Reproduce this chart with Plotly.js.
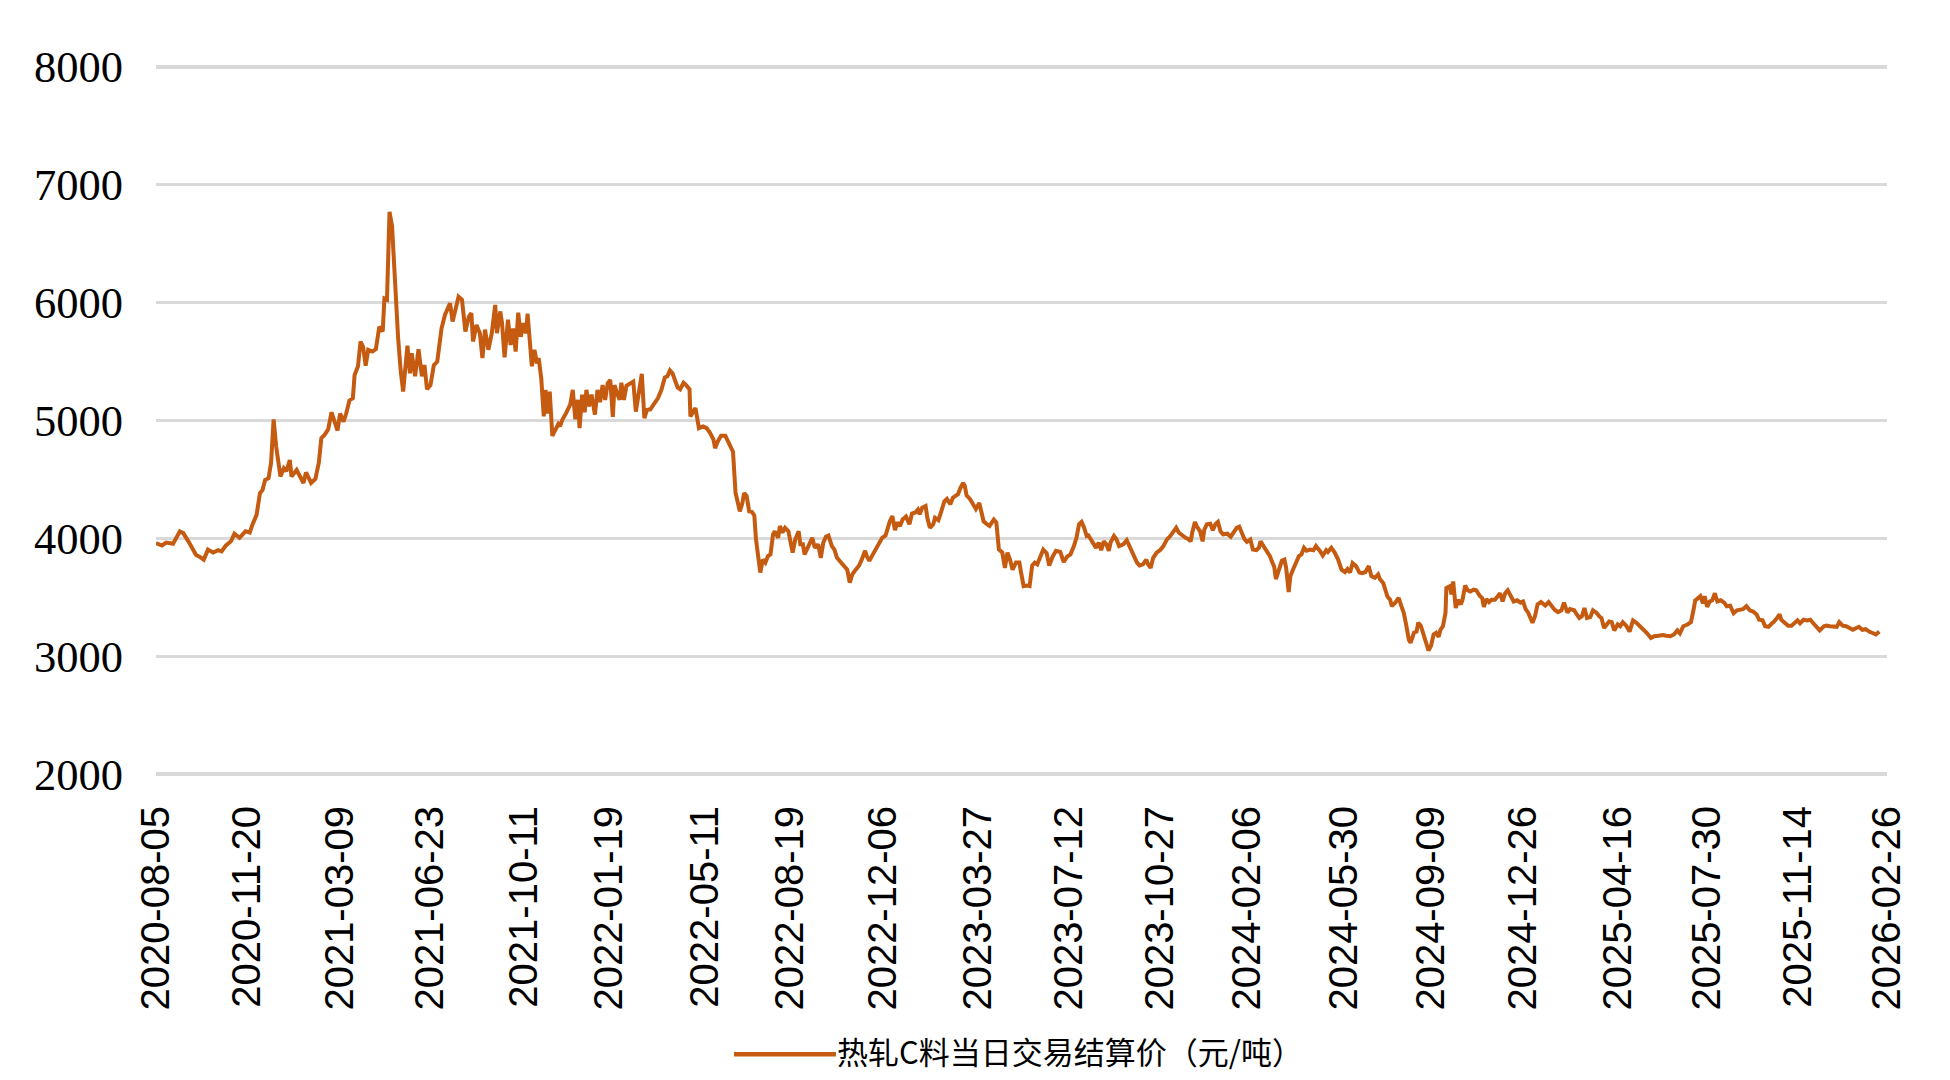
<!DOCTYPE html>
<html><head><meta charset="utf-8">
<script src="https://cdn.plot.ly/plotly-3.0.1.min.js"></script>
<style>html,body{margin:0;padding:0;background:#fff;overflow:hidden;} #chart{width:1950px;height:1080px;}</style>
</head><body><div id="chart"></div>
<script>
const seriesName = "热轧C料当日交易结算价（元/吨）";

const d2020 = ["2020-08-05","2020-08-12","2020-08-17","2020-08-25","2020-09-02","2020-09-06","2020-09-12","2020-09-16","2020-09-21","2020-09-25","2020-09-30","2020-10-05","2020-10-11","2020-10-17","2020-10-21","2020-10-26","2020-11-01","2020-11-05","2020-11-11","2020-11-18","2020-11-23","2020-11-26","2020-12-01","2020-12-05","2020-12-08","2020-12-11","2020-12-15","2020-12-18","2020-12-21","2020-12-24","2020-12-29"];
const p2020 = [3960,3940,3965,3955,4060,4045,3975,3930,3860,3845,3820,3905,3880,3900,3890,3940,3975,4040,4005,4060,4050,4115,4200,4385,4410,4495,4510,4640,5010,4780,4525];

const d2021 = ["2021-01-02","2021-01-05","2021-01-09","2021-01-11","2021-01-17","2021-01-21","2021-01-25","2021-01-28","2021-02-03","2021-02-08","2021-02-12","2021-02-15","2021-02-19","2021-02-23","2021-02-27","2021-03-03","2021-03-06","2021-03-09","2021-03-13","2021-03-16","2021-03-20","2021-03-24","2021-03-26","2021-03-30","2021-04-02","2021-04-05","2021-04-08","2021-04-11","2021-04-16","2021-04-20","2021-04-24","2021-04-28","2021-04-30","2021-05-03","2021-05-06","2021-05-09","2021-05-12","2021-05-16","2021-05-19","2021-05-22","2021-05-27","2021-05-30","2021-06-01","2021-06-05","2021-06-09","2021-06-13","2021-06-16","2021-06-19","2021-06-23","2021-06-27","2021-07-01","2021-07-03","2021-07-06","2021-07-10","2021-07-14","2021-07-16","2021-07-19","2021-07-22","2021-07-26","2021-07-30","2021-08-03","2021-08-07","2021-08-10","2021-08-12","2021-08-16","2021-08-20","2021-08-23","2021-08-26","2021-08-30","2021-09-03","2021-09-07","2021-09-09","2021-09-13","2021-09-15","2021-09-18","2021-09-22","2021-09-25","2021-09-28","2021-10-01","2021-10-04","2021-10-07","2021-10-10","2021-10-13","2021-10-15","2021-10-18","2021-10-20","2021-10-23","2021-10-26","2021-10-28","2021-10-31","2021-11-03","2021-11-05","2021-11-08","2021-11-10","2021-11-13","2021-11-16","2021-11-20","2021-11-22","2021-11-25","2021-11-29","2021-12-04","2021-12-07","2021-12-10","2021-12-13","2021-12-15","2021-12-18","2021-12-21","2021-12-23","2021-12-26","2021-12-29"];
const p2021 = [4595,4570,4665,4525,4580,4530,4470,4560,4470,4505,4640,4850,4880,4925,5070,4980,4915,5060,4990,5055,5170,5190,5385,5460,5670,5625,5465,5600,5585,5605,5795,5755,6035,6025,6770,6645,6190,5710,5430,5245,5635,5400,5570,5375,5605,5375,5470,5265,5300,5470,5500,5600,5780,5895,5965,5995,5840,5940,6050,6025,5755,5880,5910,5670,5810,5740,5530,5770,5600,5740,5980,5740,5925,5825,5535,5855,5640,5780,5585,5915,5710,5825,5740,5905,5685,5460,5600,5485,5530,5360,5035,5260,5060,5245,4870,4920,4970,4950,5010,5060,5135,5260,5010,5175,4935,5220,5070,5260,5120,5220];

const d2022 = ["2022-01-02","2022-01-05","2022-01-08","2022-01-11","2022-01-14","2022-01-17","2022-01-20","2022-01-23","2022-01-25","2022-01-28","2022-01-31","2022-02-02","2022-02-05","2022-02-08","2022-02-12","2022-02-16","2022-02-19","2022-02-22","2022-02-26","2022-03-01","2022-03-04","2022-03-08","2022-03-13","2022-03-17","2022-03-21","2022-03-25","2022-03-28","2022-03-31","2022-04-03","2022-04-06","2022-04-09","2022-04-12","2022-04-16","2022-04-19","2022-04-23","2022-04-24","2022-04-27","2022-04-30","2022-05-04","2022-05-09","2022-05-13","2022-05-17","2022-05-21","2022-05-23","2022-05-26","2022-05-30","2022-06-04","2022-06-08","2022-06-11","2022-06-13","2022-06-16","2022-06-18","2022-06-21","2022-06-24","2022-06-26","2022-06-29","2022-07-02","2022-07-05","2022-07-08","2022-07-10","2022-07-13","2022-07-15","2022-07-18","2022-07-21","2022-07-24","2022-07-27","2022-07-30","2022-08-01","2022-08-05","2022-08-07","2022-08-10","2022-08-13","2022-08-17","2022-08-20","2022-08-22","2022-08-25","2022-08-29","2022-08-31","2022-09-03","2022-09-05","2022-09-09","2022-09-14","2022-09-17","2022-09-21","2022-09-24","2022-09-27","2022-09-30","2022-10-03","2022-10-07","2022-10-10","2022-10-13","2022-10-18","2022-10-22","2022-10-25","2022-10-28","2022-10-31","2022-11-04","2022-11-08","2022-11-11","2022-11-15","2022-11-17","2022-11-20","2022-11-23","2022-11-27","2022-12-01","2022-12-05","2022-12-09","2022-12-12","2022-12-14","2022-12-17","2022-12-20","2022-12-23","2022-12-26","2022-12-29"];
const p2022 = [5050,5260,5155,5300,5175,5315,5345,5030,5300,5230,5175,5320,5175,5295,5315,5330,5075,5230,5395,5020,5090,5095,5145,5190,5260,5365,5375,5425,5400,5345,5280,5265,5320,5300,5265,5035,5070,5105,4935,4950,4935,4895,4840,4765,4820,4870,4870,4810,4750,4735,4385,4330,4230,4300,4385,4360,4230,4225,4195,3990,3850,3710,3820,3795,3850,3865,4035,4060,4005,4105,4050,4090,4060,3950,3880,3990,4060,3950,3950,3865,3920,4005,3920,3950,3835,3965,4015,4025,3935,3905,3835,3795,3770,3735,3625,3695,3735,3770,3820,3895,3850,3810,3850,3905,3950,4005,4025,4120,4145,4190,4070,4135,4105,4160];

const d2023 = ["2023-01-02","2023-01-06","2023-01-09","2023-01-13","2023-01-16","2023-01-18","2023-01-21","2023-01-25","2023-01-27","2023-01-30","2023-02-03","2023-02-05","2023-02-09","2023-02-12","2023-02-16","2023-02-19","2023-02-23","2023-02-26","2023-03-02","2023-03-04","2023-03-07","2023-03-10","2023-03-12","2023-03-14","2023-03-18","2023-03-21","2023-03-25","2023-03-29","2023-04-01","2023-04-03","2023-04-07","2023-04-10","2023-04-15","2023-04-18","2023-04-21","2023-04-25","2023-04-28","2023-05-01","2023-05-04","2023-05-07","2023-05-11","2023-05-15","2023-05-17","2023-05-20","2023-05-24","2023-05-27","2023-05-30","2023-06-02","2023-06-05","2023-06-08","2023-06-12","2023-06-16","2023-06-19","2023-06-23","2023-06-27","2023-07-02","2023-07-06","2023-07-10","2023-07-14","2023-07-18","2023-07-21","2023-07-24","2023-07-27","2023-07-30","2023-08-02","2023-08-04","2023-08-07","2023-08-10","2023-08-13","2023-08-16","2023-08-19","2023-08-22","2023-08-25","2023-08-28","2023-08-30","2023-09-03","2023-09-06","2023-09-09","2023-09-14","2023-09-18","2023-09-22","2023-09-26","2023-09-30","2023-10-03","2023-10-07","2023-10-11","2023-10-13","2023-10-16","2023-10-19","2023-10-23","2023-10-27","2023-10-31","2023-11-04","2023-11-08","2023-11-11","2023-11-15","2023-11-18","2023-11-22","2023-11-26","2023-11-29","2023-12-02","2023-12-04","2023-12-07","2023-12-09","2023-12-13","2023-12-16","2023-12-18","2023-12-21","2023-12-25","2023-12-28","2023-12-31"];
const p2023 = [4185,4120,4210,4220,4245,4205,4260,4275,4175,4090,4120,4175,4155,4220,4315,4335,4290,4345,4360,4375,4430,4470,4445,4365,4335,4295,4250,4300,4190,4145,4120,4105,4160,4135,3905,3880,3750,3880,3820,3735,3795,3795,3710,3595,3600,3595,3770,3795,3780,3835,3905,3875,3770,3845,3895,3885,3800,3845,3865,3935,4005,4120,4140,4090,4020,4025,3990,3950,3920,3965,3900,3975,3950,3895,3965,4020,3990,3935,3950,3985,3920,3850,3795,3770,3780,3820,3780,3750,3835,3880,3900,3935,3990,4020,4055,4090,4050,4025,4005,3995,3975,4055,4140,4105,4060,3975,4075,4120,4125,4070,4120];

const d2024 = ["2024-01-03","2024-01-06","2024-01-09","2024-01-14","2024-01-18","2024-01-21","2024-01-25","2024-01-28","2024-01-31","2024-02-03","2024-02-06","2024-02-10","2024-02-13","2024-02-17","2024-02-20","2024-02-22","2024-02-25","2024-02-29","2024-03-04","2024-03-06","2024-03-09","2024-03-11","2024-03-14","2024-03-18","2024-03-21","2024-03-23","2024-03-26","2024-03-28","2024-03-31","2024-04-04","2024-04-07","2024-04-10","2024-04-13","2024-04-16","2024-04-20","2024-04-24","2024-04-27","2024-05-02","2024-05-05","2024-05-09","2024-05-11","2024-05-15","2024-05-19","2024-05-23","2024-05-27","2024-05-31","2024-06-03","2024-06-06","2024-06-09","2024-06-13","2024-06-17","2024-06-20","2024-06-24","2024-06-28","2024-07-01","2024-07-05","2024-07-09","2024-07-11","2024-07-15","2024-07-18","2024-07-20","2024-07-23","2024-07-25","2024-07-29","2024-08-02","2024-08-05","2024-08-08","2024-08-11","2024-08-14","2024-08-16","2024-08-20","2024-08-23","2024-08-25","2024-08-28","2024-08-31","2024-09-03","2024-09-06","2024-09-09","2024-09-12","2024-09-15","2024-09-18","2024-09-20","2024-09-23","2024-09-26","2024-09-27","2024-10-01","2024-10-03","2024-10-05","2024-10-08","2024-10-11","2024-10-14","2024-10-16","2024-10-19","2024-10-22","2024-10-25","2024-10-29","2024-11-01","2024-11-05","2024-11-08","2024-11-10","2024-11-13","2024-11-16","2024-11-19","2024-11-23","2024-11-26","2024-11-29","2024-12-02","2024-12-05","2024-12-08","2024-12-12","2024-12-15","2024-12-19","2024-12-23","2024-12-26","2024-12-29"];
const p2024 = [4140,4060,4035,4040,4015,4050,4090,4100,4035,3995,3970,3990,3905,3900,3920,3975,3940,3895,3850,3810,3760,3655,3725,3810,3820,3750,3545,3680,3735,3810,3850,3865,3920,3895,3905,3900,3935,3890,3855,3900,3885,3920,3880,3820,3735,3715,3740,3710,3790,3765,3710,3705,3715,3765,3680,3665,3695,3655,3620,3550,3505,3480,3425,3455,3495,3430,3370,3260,3140,3115,3200,3210,3285,3260,3185,3100,3050,3090,3185,3200,3165,3225,3255,3370,3580,3595,3525,3635,3410,3480,3440,3480,3600,3560,3550,3565,3560,3515,3495,3420,3485,3460,3480,3480,3515,3535,3465,3535,3560,3495,3465,3475,3455,3465,3400];

const d2025 = ["2025-01-01","2025-01-04","2025-01-06","2025-01-09","2025-01-12","2025-01-16","2025-01-21","2025-01-25","2025-01-28","2025-02-01","2025-02-05","2025-02-09","2025-02-12","2025-02-16","2025-02-19","2025-02-24","2025-02-27","2025-03-02","2025-03-05","2025-03-08","2025-03-11","2025-03-15","2025-03-18","2025-03-22","2025-03-26","2025-03-28","2025-03-31","2025-04-03","2025-04-06","2025-04-09","2025-04-12","2025-04-16","2025-04-19","2025-04-22","2025-04-26","2025-04-30","2025-05-04","2025-05-08","2025-05-13","2025-05-17","2025-05-20","2025-05-25","2025-05-29","2025-06-03","2025-06-08","2025-06-12","2025-06-17","2025-06-21","2025-06-25","2025-06-28","2025-07-02","2025-07-07","2025-07-11","2025-07-14","2025-07-16","2025-07-18","2025-07-22","2025-07-25","2025-07-27","2025-07-30","2025-08-02","2025-08-05","2025-08-08","2025-08-11","2025-08-15","2025-08-19","2025-08-22","2025-08-26","2025-08-30","2025-09-03","2025-09-06","2025-09-10","2025-09-14","2025-09-18","2025-09-22","2025-09-26","2025-09-29","2025-10-03","2025-10-06","2025-10-10","2025-10-14","2025-10-16","2025-10-20","2025-10-23","2025-10-25","2025-10-29","2025-11-02","2025-11-06","2025-11-10","2025-11-13","2025-11-16","2025-11-20","2025-11-24","2025-11-28","2025-12-01","2025-12-05","2025-12-09","2025-12-14","2025-12-17","2025-12-21","2025-12-25","2025-12-29"];
const p2025 = [3370,3315,3285,3340,3440,3460,3430,3460,3430,3395,3375,3390,3455,3370,3400,3390,3355,3325,3340,3410,3325,3335,3390,3370,3335,3325,3240,3270,3295,3290,3220,3270,3255,3290,3260,3210,3305,3285,3250,3230,3200,3155,3170,3175,3180,3175,3170,3185,3220,3195,3255,3270,3290,3395,3475,3485,3510,3450,3510,3420,3465,3475,3535,3465,3475,3455,3425,3430,3365,3390,3395,3400,3425,3390,3380,3355,3310,3305,3255,3250,3280,3290,3325,3355,3310,3285,3260,3260,3285,3305,3280,3310,3305,3310,3285,3250,3220,3255,3260,3255,3255,3250];

const d2026 = ["2026-01-01","2026-01-05","2026-01-09","2026-01-13","2026-01-17","2026-01-21","2026-01-24","2026-01-28","2026-02-01","2026-02-05","2026-02-09","2026-02-13","2026-02-17"];
const p2026 = [3290,3260,3255,3240,3225,3240,3250,3225,3230,3210,3200,3185,3210];

const tickDates = ["2020-08-05","2020-11-20","2021-03-09","2021-06-23","2021-10-11","2022-01-19","2022-05-11","2022-08-19","2022-12-06","2023-03-27","2023-07-12","2023-10-27","2024-02-06","2024-05-30","2024-09-09","2024-12-26","2025-04-16","2025-07-30","2025-11-14","2026-02-26"];
const yTicks = [2000,3000,4000,5000,6000,7000,8000];
const yTickText = ["2000","3000","4000","5000","6000","7000","8000"];

const dates = [].concat(d2020, d2021, d2022, d2023, d2024, d2025, d2026);
const prices = [].concat(p2020, p2021, p2022, p2023, p2024, p2025, p2026);

const lineColor = '#C55A11';

const trace = {
  x: dates, y: prices, type: 'scatter', mode: 'lines', name: seriesName,
  line: {color: lineColor, width: 4}
};

const layout = {
  width: 1950, height: 1080,
  margin: {l: 156, r: 63, t: 65, b: 303.5, pad: 0},
  paper_bgcolor: '#ffffff', plot_bgcolor: '#ffffff',
  hovermode: false,
  showlegend: false,
  xaxis: {
    type: 'date', range: ['2020-08-05', '2026-02-26'],
    tickmode: 'array', tickvals: tickDates, ticktext: tickDates, tickangle: -90,
    tickfont: {family: 'Liberation Sans, Arial, sans-serif', size: 40, color: '#000000'},
    showgrid: false, zeroline: false, showline: false, ticks: '', ticklabelstandoff: 21
  },
  yaxis: {
    range: [1985, 8015], tickmode: 'array', tickvals: yTicks, ticktext: yTickText,
    tickfont: {family: 'Liberation Serif, Times New Roman, serif', size: 44.5, color: '#000000'},
    showgrid: true, gridcolor: '#d9d9d9', gridwidth: 3.5,
    zeroline: false, showline: false, ticks: '', ticklabelstandoff: 32
  },
  shapes: [{
    type: 'line', xref: 'paper', yref: 'paper',
    x0: 0.3339, x1: 0.3928, y0: -0.3914, y1: -0.3914,
    line: {color: lineColor, width: 4.5}
  }],
  annotations: [{
    xref: 'paper', yref: 'paper', x: 0.3922, y: -0.3858,
    xanchor: 'left', yanchor: 'middle', showarrow: false,
    text: seriesName,
    font: {family: 'Noto Sans CJK SC, sans-serif', size: 31, color: '#000000'}
  }]
};

Plotly.newPlot('chart', [trace], layout, {staticPlot: true, displayModeBar: false});
</script>
</body></html>
